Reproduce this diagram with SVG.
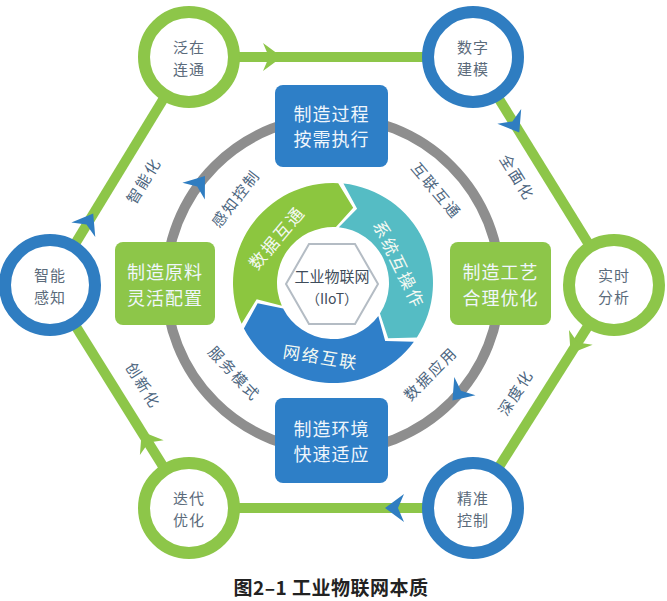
<svg xmlns="http://www.w3.org/2000/svg" width="667" height="601" viewBox="0 0 667 601">
<style>
text{font-family:"Noto Sans CJK SC","Noto Sans",sans-serif;text-anchor:middle;dominant-baseline:central}
.edge{stroke:#8dc649;stroke-width:10;fill:none}
.ring{stroke:#8e8e8e;stroke-width:10;fill:none}
.cg{fill:#fff;stroke:#8dc649;stroke-width:12}
.cb{fill:#fff;stroke:#2f7dc1;stroke-width:12}
.ct{font-size:15px;fill:#5b6b7b;letter-spacing:1px}
.lbl{font-size:15px;fill:#4d6680;letter-spacing:2px}
.bt{font-size:18px;fill:#f0f6fc;letter-spacing:1px}
.bb{fill:#2e7fc7}
.bg{fill:#8dc649}
.st{font-size:17px;fill:#f4f9f2;letter-spacing:2px}
</style>
<defs>
<path id="chev" d="M10 0 L-9 -14 L-3 0 L-9 14 Z"/>
</defs>
<g id="connectors">
<line class="edge" x1="189" y1="57" x2="473" y2="57"/>
<line class="edge" x1="473" y1="57" x2="614" y2="285"/>
<line class="edge" x1="614" y1="285" x2="473" y2="508"/>
<line class="edge" x1="473" y1="508" x2="189" y2="508"/>
<line class="edge" x1="189" y1="508" x2="50" y2="285"/>
<line class="edge" x1="50" y1="285" x2="189" y2="57"/>
<use href="#chev" fill="#8dc649" transform="translate(272,57)"/>
<use href="#chev" fill="#2f7dc1" transform="translate(514,124) rotate(58.3)"/>
<use href="#chev" fill="#8dc649" transform="translate(576,345) rotate(122.3)"/>
<use href="#chev" fill="#2f7dc1" transform="translate(395,508) rotate(180)"/>
<use href="#chev" fill="#8dc649" transform="translate(147,440) rotate(238)"/>
<use href="#chev" fill="#2f7dc1" transform="translate(88,222) rotate(-58.6)"/>
<circle class="ring" cx="333" cy="284" r="167"/>
<use href="#chev" fill="#2f7dc1" transform="translate(199,184) rotate(-53.3)"/>
<use href="#chev" fill="#2f7dc1" transform="translate(459,393) rotate(130.8)"/>
<text class="lbl" transform="translate(143,180) rotate(-58.6)">智能化</text>
<text class="lbl" transform="translate(518,177) rotate(58)">全面化</text>
<text class="lbl" transform="translate(515,392) rotate(-57.7)">深度化</text>
<text class="lbl" transform="translate(144,385) rotate(58)">创新化</text>
<text class="lbl" transform="translate(235,198) rotate(-52)">感知控制</text>
<text class="lbl" transform="translate(437,190) rotate(50)">互联互通</text>
<text class="lbl" transform="translate(235,373) rotate(47)">服务模式</text>
<text class="lbl" transform="translate(430,373) rotate(-45)">数据应用</text>
</g>
<g id="n-fanzai"><circle class="cg" cx="189" cy="57" r="45"/><text class="ct" x="189" y="46">泛在</text><text class="ct" x="189" y="68">连通</text></g>
<g id="n-shuzi"><circle class="cb" cx="473" cy="57" r="45"/><text class="ct" x="473" y="46">数字</text><text class="ct" x="473" y="68">建模</text></g>
<g id="n-shishi"><circle class="cg" cx="614" cy="285" r="45"/><text class="ct" x="614" y="274">实时</text><text class="ct" x="614" y="296">分析</text></g>
<g id="n-jingzhun"><circle class="cb" cx="473" cy="508" r="45"/><text class="ct" x="473" y="497">精准</text><text class="ct" x="473" y="519">控制</text></g>
<g id="n-diedai"><circle class="cg" cx="189" cy="508" r="45"/><text class="ct" x="189" y="497">迭代</text><text class="ct" x="189" y="519">优化</text></g>
<g id="n-zhineng"><circle class="cb" cx="50" cy="285" r="45"/><text class="ct" x="50" y="274">智能</text><text class="ct" x="50" y="296">感知</text></g>
<g id="b-top"><rect class="bb" x="275" y="85" width="113" height="82" rx="8"/><text class="bt" x="331.5" y="113">制造过程</text><text class="bt" x="331.5" y="138">按需执行</text></g>
<g id="b-left"><rect class="bg" x="115" y="242" width="100" height="83" rx="8"/><text class="bt" x="165" y="271">制造原料</text><text class="bt" x="165" y="297">灵活配置</text></g>
<g id="b-right"><rect class="bg" x="450" y="242" width="101" height="83" rx="8"/><text class="bt" x="500.5" y="271">制造工艺</text><text class="bt" x="500.5" y="297">合理优化</text></g>
<g id="b-bottom"><rect class="bb" x="275" y="398" width="113" height="85" rx="8"/><text class="bt" x="331.5" y="428">制造环境</text><text class="bt" x="331.5" y="453">快速适应</text></g>
<g id="seg-data">
<path fill="#8cc63f" d="M241.65 323.67 A100 100 0 0 1 338.23 183.14 L353.19 207.66 L335.93 227.08 A56 56 0 0 0 281.84 305.78 L256.71 299.22 Z"/>
<text class="st" transform="translate(276,237) rotate(-50)">数据互通</text>
</g>
<g id="seg-system">
<path fill="#55bcc4" d="M343.45 183.55 A100 100 0 0 1 416.87 337.46 L388.15 338.15 L379.97 313.50 A56 56 0 0 0 338.85 227.31 L357.10 208.81 Z"/>
<text class="st" transform="translate(400,264) rotate(64)">系统互操作</text>
</g>
<g id="seg-network">
<path fill="#2f7fc9" d="M413.90 341.78 A100 100 0 0 1 243.90 328.40 L257.66 303.19 L283.10 308.42 A56 56 0 0 0 378.30 315.92 L385.19 340.96 Z"/>
<text class="st" transform="translate(321,356) rotate(9)">网络互联</text>
</g>
<g id="hub">
<polygon points="286,284 309,244 355,244 378,284 355,324 309,324" fill="#fff" stroke="#b4bcc4" stroke-width="2"/>
<text x="332" y="275" style="font-size:15px;fill:#3e4c5a">工业物联网</text>
<text x="332" y="298" style="font-size:14px;fill:#3e4c5a">（IIoT）</text>
</g>
<text x="331" y="586" style="font-size:19px;font-weight:bold;fill:#222;letter-spacing:0.5px">图2–1 工业物联网本质</text>
</svg>
